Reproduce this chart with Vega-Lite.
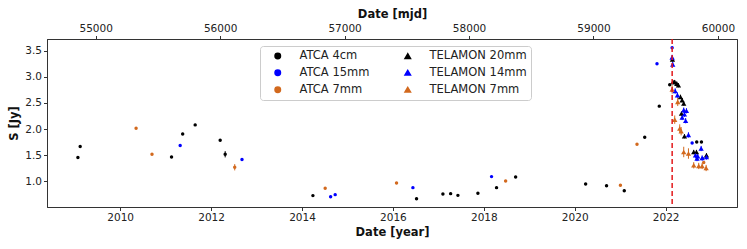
{
  "$schema": "https://vega.github.io/schema/vega-lite/v6.json",
  "width": 690,
  "height": 168,
  "autosize": {"type": "none"},
  "padding": {"left": 47, "top": 39, "right": 10, "bottom": 42},
  "background": "white",
  "config": {
    "font": "DejaVu Sans",
    "view": {"stroke": "#333333", "strokeWidth": 1},
    "axis": {"grid": false, "domainColor": "#333333", "tickColor": "#333333", "tickSize": 3.5, "labelFontSize": 10.5, "labelColor": "#222222", "titleFontSize": 11.5, "titleFontWeight": "bold", "titleColor": "#111111", "labelPadding": 2}
  },
  "datasets": {
    "obs": [
      {"series": "ATCA 4cm", "tel": "ATCA", "year": 2009.07, "S": 1.454, "err": 0.02},
      {"series": "ATCA 4cm", "tel": "ATCA", "year": 2009.12, "S": 1.665, "err": 0.02},
      {"series": "ATCA 4cm", "tel": "ATCA", "year": 2011.13, "S": 1.465, "err": 0.02},
      {"series": "ATCA 4cm", "tel": "ATCA", "year": 2011.375, "S": 1.907, "err": 0.02},
      {"series": "ATCA 4cm", "tel": "ATCA", "year": 2011.65, "S": 2.08, "err": 0.02},
      {"series": "ATCA 4cm", "tel": "ATCA", "year": 2012.2, "S": 1.786, "err": 0.02},
      {"series": "ATCA 4cm", "tel": "ATCA", "year": 2012.31, "S": 1.517, "err": 0.06},
      {"series": "ATCA 4cm", "tel": "ATCA", "year": 2014.24, "S": 0.725, "err": 0.02},
      {"series": "ATCA 4cm", "tel": "ATCA", "year": 2016.52, "S": 0.667, "err": 0.02},
      {"series": "ATCA 4cm", "tel": "ATCA", "year": 2017.1, "S": 0.755, "err": 0.02},
      {"series": "ATCA 4cm", "tel": "ATCA", "year": 2017.27, "S": 0.763, "err": 0.02},
      {"series": "ATCA 4cm", "tel": "ATCA", "year": 2017.43, "S": 0.73, "err": 0.02},
      {"series": "ATCA 4cm", "tel": "ATCA", "year": 2017.87, "S": 0.769, "err": 0.02},
      {"series": "ATCA 4cm", "tel": "ATCA", "year": 2018.28, "S": 0.878, "err": 0.02},
      {"series": "ATCA 4cm", "tel": "ATCA", "year": 2018.7, "S": 1.082, "err": 0.02},
      {"series": "ATCA 4cm", "tel": "ATCA", "year": 2020.24, "S": 0.947, "err": 0.02},
      {"series": "ATCA 4cm", "tel": "ATCA", "year": 2020.7, "S": 0.916, "err": 0.02},
      {"series": "ATCA 4cm", "tel": "ATCA", "year": 2021.09, "S": 0.82, "err": 0.02},
      {"series": "ATCA 4cm", "tel": "ATCA", "year": 2021.54, "S": 1.844, "err": 0.02},
      {"series": "ATCA 4cm", "tel": "ATCA", "year": 2021.86, "S": 2.439, "err": 0.02},
      {"series": "ATCA 4cm", "tel": "ATCA", "year": 2022.09, "S": 2.847, "err": 0.02},
      {"series": "ATCA 4cm", "tel": "ATCA", "year": 2022.684, "S": 1.753, "err": 0.02},
      {"series": "ATCA 4cm", "tel": "ATCA", "year": 2022.788, "S": 1.753, "err": 0.02},
      {"series": "ATCA 15mm", "tel": "ATCA", "year": 2011.32, "S": 1.684, "err": 0.02},
      {"series": "ATCA 15mm", "tel": "ATCA", "year": 2012.68, "S": 1.416, "err": 0.02},
      {"series": "ATCA 15mm", "tel": "ATCA", "year": 2014.63, "S": 0.705, "err": 0.02},
      {"series": "ATCA 15mm", "tel": "ATCA", "year": 2014.73, "S": 0.744, "err": 0.02},
      {"series": "ATCA 15mm", "tel": "ATCA", "year": 2016.44, "S": 0.878, "err": 0.02},
      {"series": "ATCA 15mm", "tel": "ATCA", "year": 2018.17, "S": 1.089, "err": 0.02},
      {"series": "ATCA 15mm", "tel": "ATCA", "year": 2021.81, "S": 3.25, "err": 0.02},
      {"series": "ATCA 15mm", "tel": "ATCA", "year": 2022.143, "S": 3.558, "err": 0.02},
      {"series": "ATCA 15mm", "tel": "ATCA", "year": 2022.583, "S": 1.734, "err": 0.02},
      {"series": "ATCA 15mm", "tel": "ATCA", "year": 2022.81, "S": 1.435, "err": 0.02},
      {"series": "ATCA 7mm", "tel": "ATCA", "year": 2010.35, "S": 2.016, "err": 0.02},
      {"series": "ATCA 7mm", "tel": "ATCA", "year": 2010.7, "S": 1.517, "err": 0.02},
      {"series": "ATCA 7mm", "tel": "ATCA", "year": 2012.52, "S": 1.268, "err": 0.06},
      {"series": "ATCA 7mm", "tel": "ATCA", "year": 2014.51, "S": 0.865, "err": 0.02},
      {"series": "ATCA 7mm", "tel": "ATCA", "year": 2016.08, "S": 0.966, "err": 0.02},
      {"series": "ATCA 7mm", "tel": "ATCA", "year": 2018.48, "S": 1.005, "err": 0.02},
      {"series": "ATCA 7mm", "tel": "ATCA", "year": 2021.005, "S": 0.922, "err": 0.02},
      {"series": "ATCA 7mm", "tel": "ATCA", "year": 2021.37, "S": 1.709, "err": 0.02},
      {"series": "ATCA 7mm", "tel": "ATCA", "year": 2022.838, "S": 1.358, "err": 0.02},
      {"series": "TELAMON 20mm", "tel": "TELAMON", "year": 2022.15, "S": 3.335, "err": 0.04},
      {"series": "TELAMON 20mm", "tel": "TELAMON", "year": 2022.16, "S": 2.9, "err": 0.04},
      {"series": "TELAMON 20mm", "tel": "TELAMON", "year": 2022.2, "S": 2.9, "err": 0.04},
      {"series": "TELAMON 20mm", "tel": "TELAMON", "year": 2022.245, "S": 2.87, "err": 0.04},
      {"series": "TELAMON 20mm", "tel": "TELAMON", "year": 2022.282, "S": 2.84, "err": 0.04},
      {"series": "TELAMON 20mm", "tel": "TELAMON", "year": 2022.326, "S": 2.617, "err": 0.04},
      {"series": "TELAMON 20mm", "tel": "TELAMON", "year": 2022.363, "S": 2.554, "err": 0.04},
      {"series": "TELAMON 20mm", "tel": "TELAMON", "year": 2022.398, "S": 2.49, "err": 0.04},
      {"series": "TELAMON 20mm", "tel": "TELAMON", "year": 2022.348, "S": 2.298, "err": 0.04},
      {"series": "TELAMON 20mm", "tel": "TELAMON", "year": 2022.414, "S": 1.863, "err": 0.04},
      {"series": "TELAMON 20mm", "tel": "TELAMON", "year": 2022.618, "S": 1.561, "err": 0.04},
      {"series": "TELAMON 20mm", "tel": "TELAMON", "year": 2022.678, "S": 1.561, "err": 0.04},
      {"series": "TELAMON 20mm", "tel": "TELAMON", "year": 2022.898, "S": 1.498, "err": 0.04},
      {"series": "TELAMON 14mm", "tel": "TELAMON", "year": 2022.143, "S": 3.373, "err": 0.05},
      {"series": "TELAMON 14mm", "tel": "TELAMON", "year": 2022.156, "S": 3.239, "err": 0.05},
      {"series": "TELAMON 14mm", "tel": "TELAMON", "year": 2022.21, "S": 2.73, "err": 0.05},
      {"series": "TELAMON 14mm", "tel": "TELAMON", "year": 2022.26, "S": 2.65, "err": 0.05},
      {"series": "TELAMON 14mm", "tel": "TELAMON", "year": 2022.398, "S": 2.362, "err": 0.05},
      {"series": "TELAMON 14mm", "tel": "TELAMON", "year": 2022.458, "S": 2.35, "err": 0.05},
      {"series": "TELAMON 14mm", "tel": "TELAMON", "year": 2022.363, "S": 2.222, "err": 0.05},
      {"series": "TELAMON 14mm", "tel": "TELAMON", "year": 2022.44, "S": 2.16, "err": 0.05},
      {"series": "TELAMON 14mm", "tel": "TELAMON", "year": 2022.414, "S": 2.285, "err": 0.05},
      {"series": "TELAMON 14mm", "tel": "TELAMON", "year": 2022.502, "S": 1.888, "err": 0.05},
      {"series": "TELAMON 14mm", "tel": "TELAMON", "year": 2022.656, "S": 1.498, "err": 0.05},
      {"series": "TELAMON 14mm", "tel": "TELAMON", "year": 2022.69, "S": 1.435, "err": 0.05},
      {"series": "TELAMON 14mm", "tel": "TELAMON", "year": 2022.706, "S": 1.479, "err": 0.05},
      {"series": "TELAMON 14mm", "tel": "TELAMON", "year": 2022.781, "S": 1.627, "err": 0.05},
      {"series": "TELAMON 14mm", "tel": "TELAMON", "year": 2022.803, "S": 1.446, "err": 0.05},
      {"series": "TELAMON 14mm", "tel": "TELAMON", "year": 2022.898, "S": 1.465, "err": 0.05},
      {"series": "TELAMON 7mm", "tel": "TELAMON", "year": 2022.143, "S": 2.759, "err": 0.08},
      {"series": "TELAMON 7mm", "tel": "TELAMON", "year": 2022.2, "S": 2.18, "err": 0.08},
      {"series": "TELAMON 7mm", "tel": "TELAMON", "year": 2022.266, "S": 2.521, "err": 0.08},
      {"series": "TELAMON 7mm", "tel": "TELAMON", "year": 2022.31, "S": 2.011, "err": 0.08},
      {"series": "TELAMON 7mm", "tel": "TELAMON", "year": 2022.341, "S": 1.959, "err": 0.08},
      {"series": "TELAMON 7mm", "tel": "TELAMON", "year": 2022.398, "S": 1.561, "err": 0.1},
      {"series": "TELAMON 7mm", "tel": "TELAMON", "year": 2022.502, "S": 1.531, "err": 0.1},
      {"series": "TELAMON 7mm", "tel": "TELAMON", "year": 2022.618, "S": 1.306, "err": 0.06},
      {"series": "TELAMON 7mm", "tel": "TELAMON", "year": 2022.728, "S": 1.293, "err": 0.06},
      {"series": "TELAMON 7mm", "tel": "TELAMON", "year": 2022.803, "S": 1.293, "err": 0.06},
      {"series": "TELAMON 7mm", "tel": "TELAMON", "year": 2022.891, "S": 1.254, "err": 0.06}
    ],
    "event": [{"mjd": 59632}]
  },
  "layer": [
    {
      "data": {"name": "obs"},
      "encoding": {
        "x": {"field": "year", "type": "quantitative", "scale": {"domain": [2008.39, 2023.57], "nice": false, "zero": false},
              "axis": {"orient": "bottom", "title": "Date [year]", "values": [2010, 2012, 2014, 2016, 2018, 2020, 2022], "format": "d", "titlePadding": 3}},
        "y": {"field": "S", "type": "quantitative", "scale": {"domain": [0.507, 3.725], "nice": false, "zero": false},
              "axis": {"title": "S [Jy]", "values": [1.0, 1.5, 2.0, 2.5, 3.0, 3.5], "format": ".1f", "titlePadding": 5}},
        "color": {"field": "series", "type": "nominal",
                  "scale": {"domain": ["ATCA 4cm", "ATCA 15mm", "ATCA 7mm", "TELAMON 20mm", "TELAMON 14mm", "TELAMON 7mm"],
                            "range": ["#000000", "#0000ff", "#d2691e", "#000000", "#0000ff", "#d2691e"]},
                  "legend": {"orient": "none", "legendX": 213, "legendY": 7, "columns": 2, "title": null, "columnPadding": 24, "rowPadding": 4,
                             "padding": 4, "symbolOffset": 8, "labelOffset": 16, "labelFontSize": 11.5, "labelColor": "#222222", "symbolSize": 30,
                             "strokeColor": "#cccccc", "fillColor": "white", "cornerRadius": 3}}
      },
      "layer": [
        {"mark": {"type": "errorbar", "thickness": 1}, "encoding": {"yError": {"field": "err"}}},
        {"transform": [{"filter": "datum.tel === 'ATCA'"}], "mark": {"type": "point", "filled": true, "opacity": 1, "size": 12},
         "encoding": {"shape": {"field": "series", "type": "nominal", "scale": {"domain": ["ATCA 4cm", "ATCA 15mm", "ATCA 7mm", "TELAMON 20mm", "TELAMON 14mm", "TELAMON 7mm"], "range": ["circle", "circle", "circle", "triangle-up", "triangle-up", "triangle-up"]}}}},
        {"transform": [{"filter": "datum.tel === 'TELAMON'"}], "mark": {"type": "point", "filled": true, "opacity": 1, "size": 28},
         "encoding": {"shape": {"field": "series", "type": "nominal"}}}
      ]
    },
    {
      "data": {"name": "event"},
      "mark": {"type": "rule", "color": "#e31a1c", "strokeDash": [5, 3], "strokeWidth": 1.5},
      "encoding": {
        "x": {"field": "mjd", "type": "quantitative", "scale": {"domain": [54609, 60153], "nice": false, "zero": false},
              "axis": {"orient": "top", "title": "Date [mjd]", "values": [55000, 56000, 57000, 58000, 59000, 60000], "format": "d", "titlePadding": 4}}
      }
    }
  ],
  "resolve": {"scale": {"x": "independent"}}
}
